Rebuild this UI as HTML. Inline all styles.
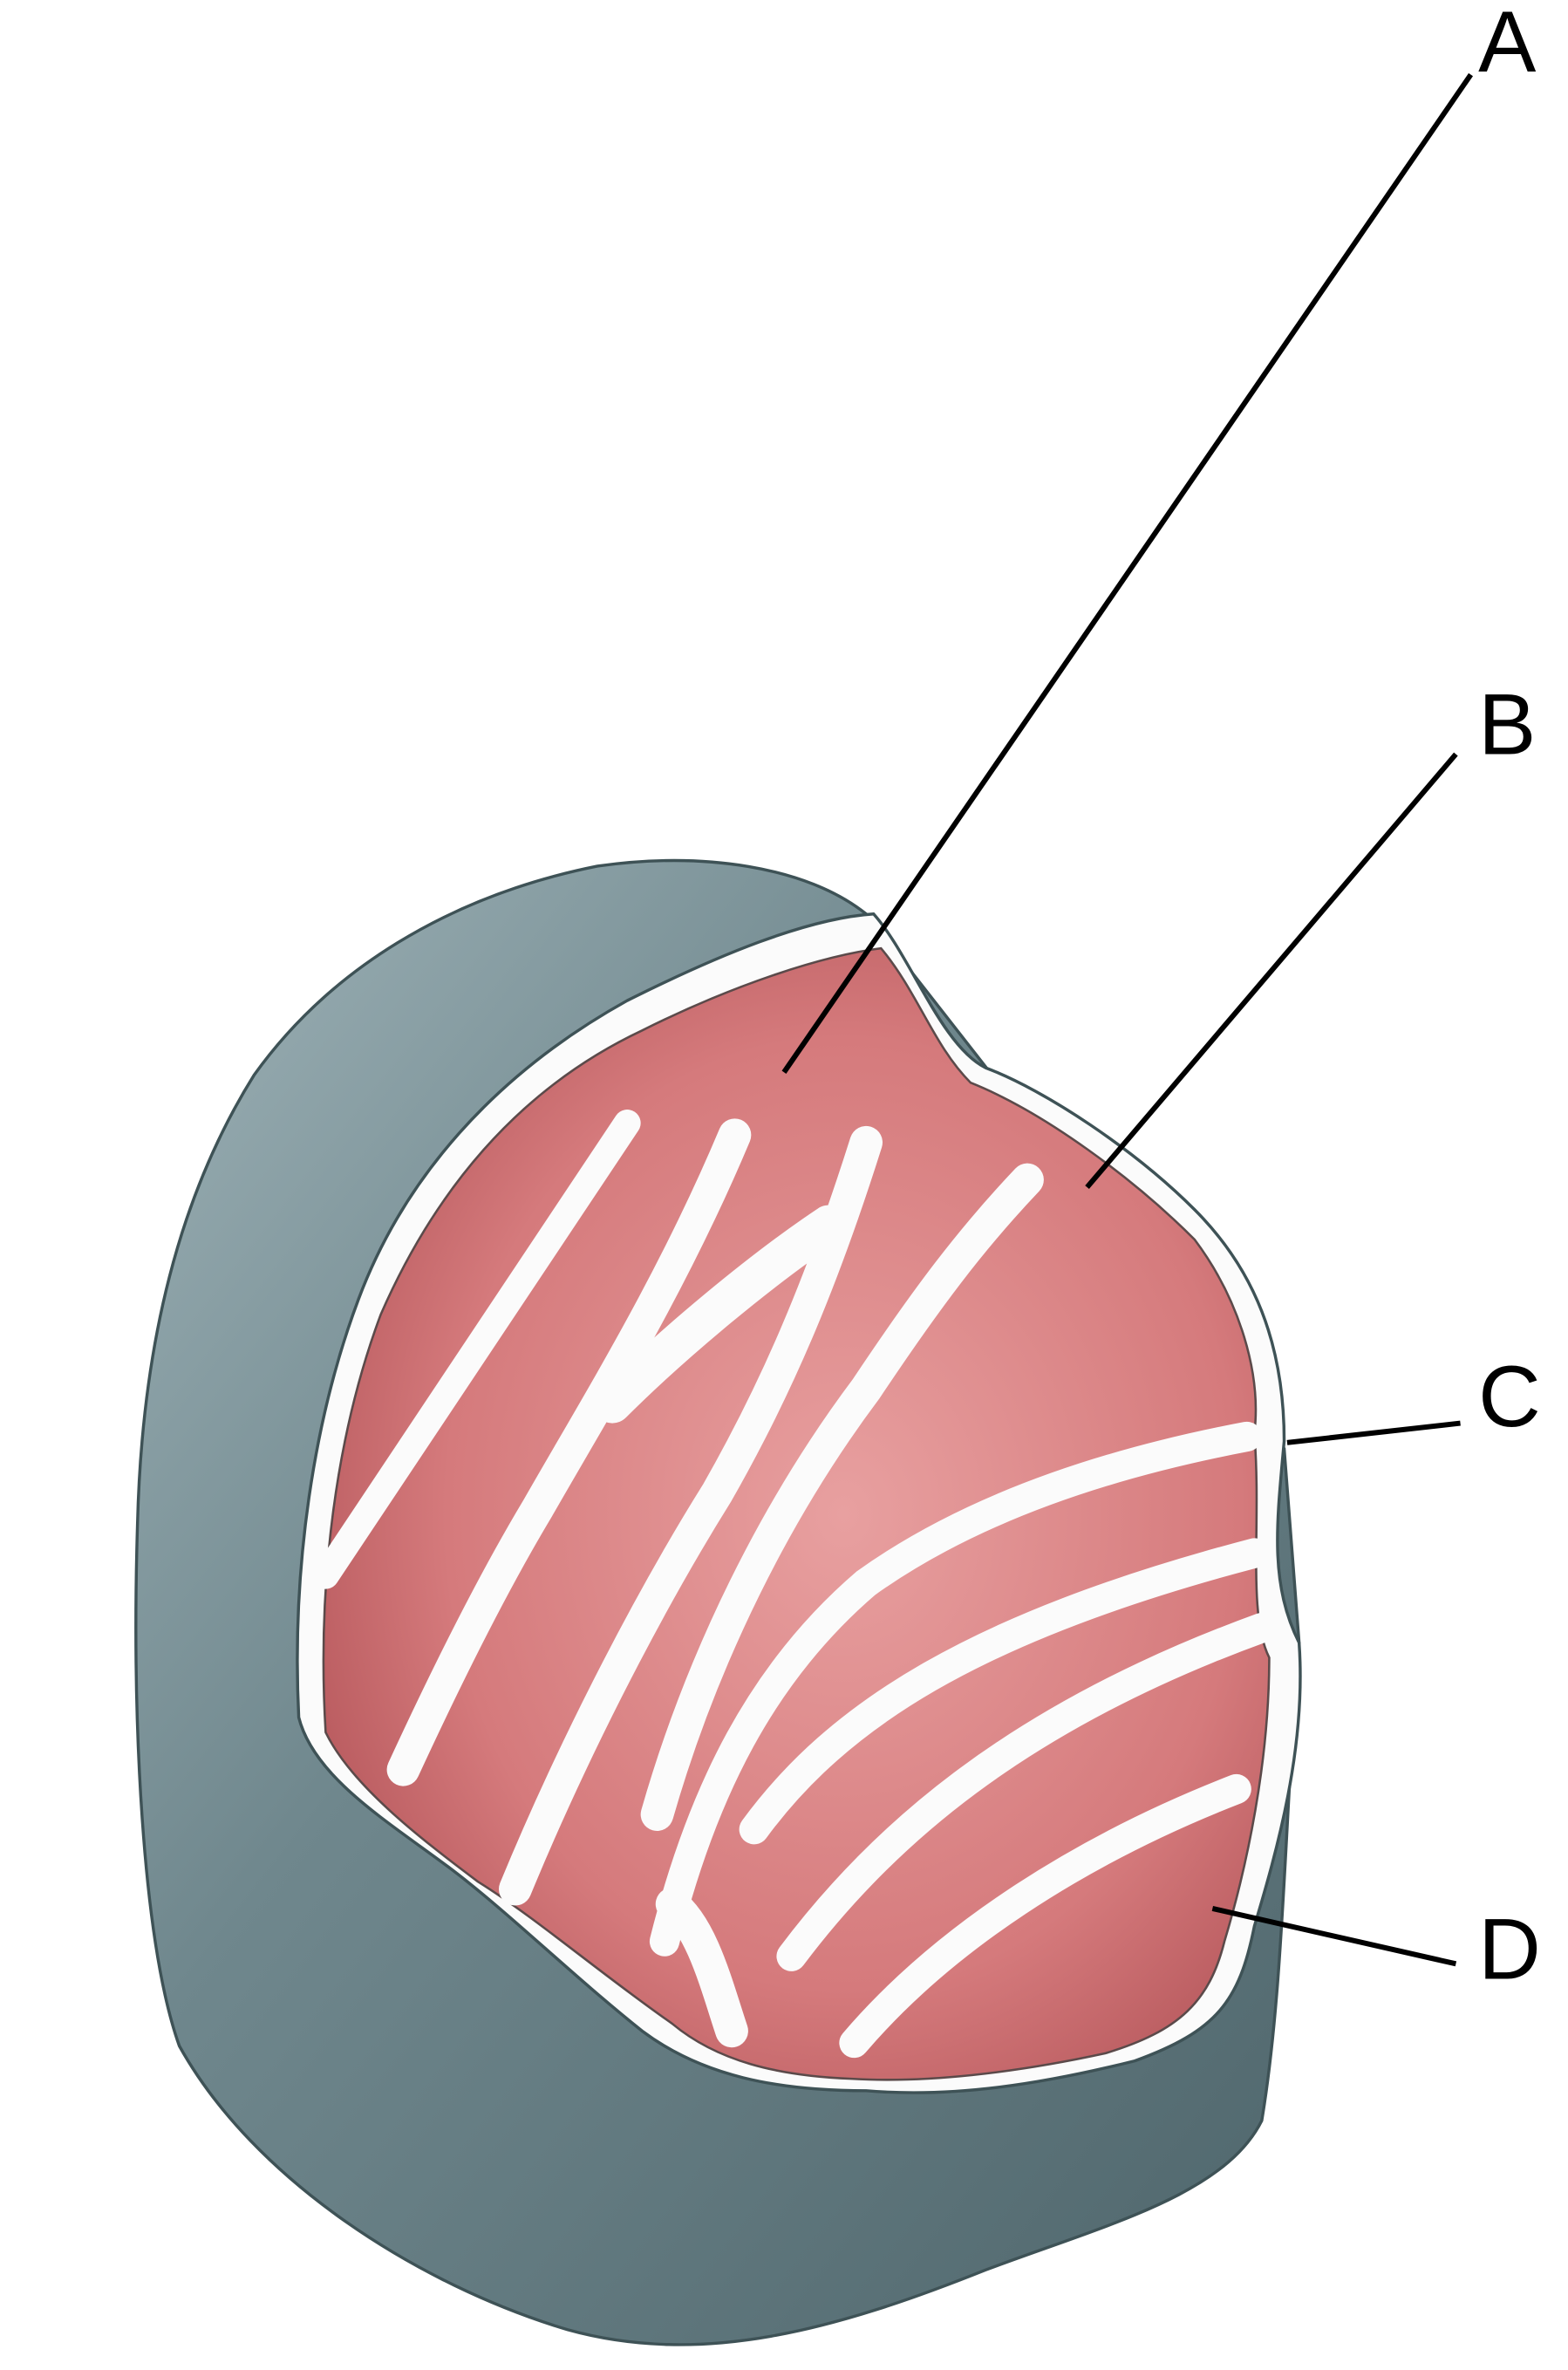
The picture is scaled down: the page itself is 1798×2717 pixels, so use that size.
<!DOCTYPE html>
<html><head><meta charset="utf-8"><style>
html,body{margin:0;padding:0;background:#fff;}
svg{display:block;}
text{font-family:"Liberation Sans",sans-serif;font-size:58px;fill:#000;}
</style></head><body>
<svg width="1798" height="2717" viewBox="0 0 1050 1587" xmlns="http://www.w3.org/2000/svg">
<defs>
<linearGradient id="g" x1="0" y1="0" x2="1" y2="1">
<stop offset="0" stop-color="#9fb3b8"/><stop offset="0.4" stop-color="#6f878d"/><stop offset="1" stop-color="#4f666c"/>
</linearGradient>
<radialGradient id="r" cx="0.55" cy="0.5" r="0.6">
<stop offset="0" stop-color="#e8a0a0"/><stop offset="0.7" stop-color="#d57a7c"/><stop offset="1" stop-color="#b85a5e"/>
</radialGradient>
</defs>
<path d="M580,612 C540,580 470,570 400,580 C300,600 220,650 170,720 C120,800 95,900 92,1020 C88,1150 95,1300 120,1370 C170,1460 280,1530 380,1560 C470,1585 560,1560 660,1520 C740,1490 820,1470 845,1420 C860,1330 860,1220 870,1100 L860,970 Z" fill="url(#g)" stroke="#3e5256" stroke-width="2"/>
<path d="M585,612 C610,640 630,700 660,715 C700,730 760,770 800,810 C840,850 860,900 860,965 C855,1020 850,1060 870,1100 C875,1170 855,1240 840,1290 C830,1340 815,1360 760,1380 C700,1395 640,1405 580,1400 C520,1400 470,1390 430,1360 C380,1320 340,1280 300,1250 C260,1220 210,1190 200,1150 C195,1050 210,950 240,870 C270,790 330,720 420,670 C480,640 540,615 585,612 Z" fill="#fbfbfb" stroke="#3e5256" stroke-width="2"/>
<path d="M590,635 C615,665 625,700 650,725 C700,745 760,790 800,830 C830,870 845,920 840,960 C845,1020 835,1080 850,1110 C850,1180 835,1250 820,1300 C810,1340 790,1360 740,1375 C680,1388 620,1395 570,1392 C520,1390 480,1380 450,1355 C400,1320 360,1285 320,1260 C280,1230 235,1195 218,1160 C212,1060 225,960 255,880 C290,800 345,730 430,690 C490,660 550,640 590,635 Z" fill="url(#r)" stroke="#5b4a4a" stroke-width="1.5"/>
<g stroke="#fbfbfb" stroke-linecap="round" fill="none">
<path d="M218,1055 L420,752" stroke-width="18"/>
<path d="M270,1185 C300,1120 330,1060 360,1010 C400,940 450,860 492,760" stroke-width="22"/>
<path d="M410,940 C450,900 510,850 555,820" stroke-width="26"/>
<path d="M345,1265 C380,1180 430,1080 480,1000 C520,930 550,860 580,765" stroke-width="22"/>
<path d="M440,1215 C470,1110 520,1010 580,930 C620,870 650,830 688,790" stroke-width="22"/>
<path d="M445,1300 C470,1200 510,1120 580,1060 C650,1010 740,980 835,962" stroke-width="20"/>
<path d="M505,1225 C560,1150 650,1090 840,1040" stroke-width="20"/>
<path d="M530,1310 C590,1230 680,1150 845,1090" stroke-width="20"/>
<path d="M572,1368 C630,1300 720,1240 828,1198" stroke-width="20"/>
<path d="M450,1275 C470,1290 480,1330 490,1360" stroke-width="22"/>
</g>
<g stroke="#000" stroke-width="3.5">
<line x1="985" y1="50" x2="525" y2="718"/>
<line x1="975" y1="505" x2="728" y2="795"/>
<line x1="978" y1="953" x2="862" y2="966"/>
<line x1="975" y1="1315" x2="812" y2="1278"/>
</g>
<text x="990" y="48">A</text>
<text x="990" y="505">B</text>
<text x="990" y="955">C</text>
<text x="990" y="1325">D</text>
</svg>
</body></html>
